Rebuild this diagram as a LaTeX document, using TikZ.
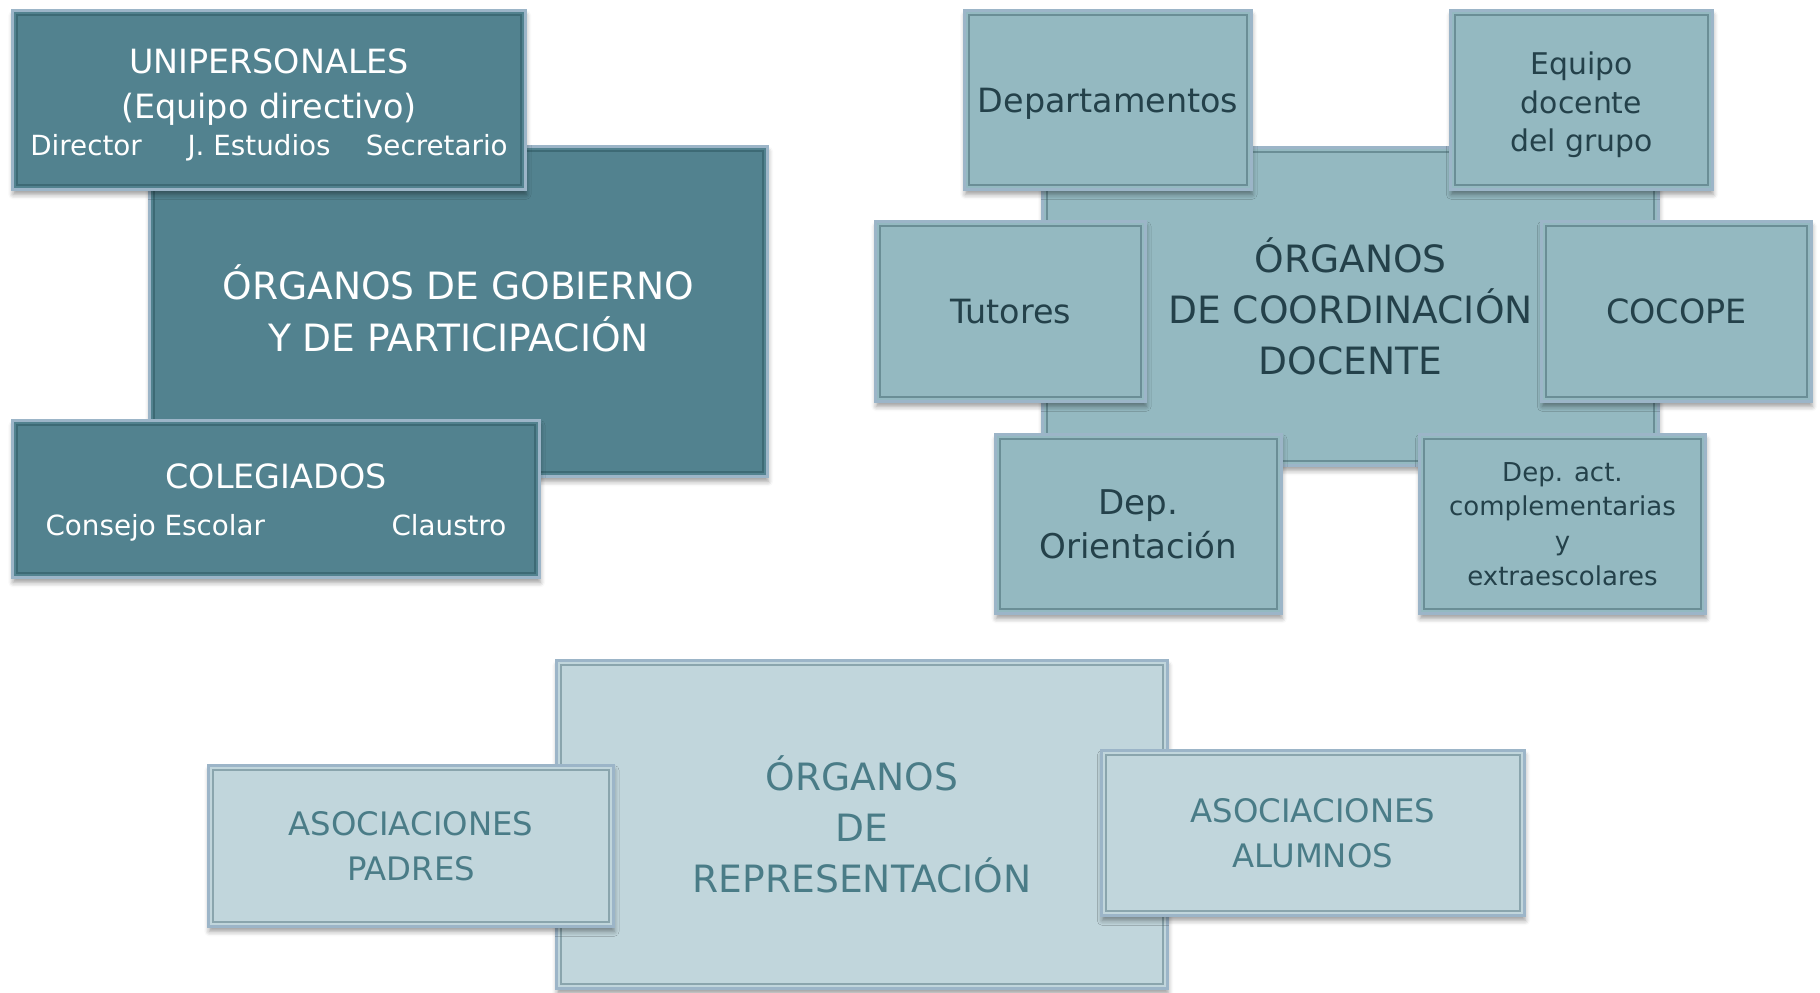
\documentclass[tikz,border=0pt]{standalone}
\usepackage{fontspec}
\setmainfont{DejaVu Sans}
\usepackage{tikz}
\usetikzlibrary{shadows.blur}

\definecolor{gobiernofill}{HTML}{52828F}
\definecolor{gobiernoline}{HTML}{3D6A75}
\definecolor{docentefill}{HTML}{94B9C1}
\definecolor{docenteline}{HTML}{6A8E96}
\definecolor{docentetext}{HTML}{24414A}
\definecolor{reprefill}{HTML}{C1D6DC}
\definecolor{repreline}{HTML}{8AA5AD}
\definecolor{repretext}{HTML}{4A7C87}
\definecolor{rim}{HTML}{9CB5C8}

\begin{document}
\begin{tikzpicture}[
        caja/.style n args = {2}{rectangle, draw = rim, line width = 0.9pt, fill = #1, inner sep = 0pt, align = center,
            blur shadow = {shadow xshift = 0.2pt, shadow yshift = -1.4pt, shadow blur radius = 1.4pt, shadow opacity = 40},
            path picture = {\draw[#2, line width = 0.6pt] ([shift = {(1.3pt, 1.3pt)}]path picture bounding box.south west) rectangle ([shift = {(-1.3pt, -1.3pt)}]path picture bounding box.north east);}},
        gobierno/.style = {caja = {gobiernofill}{gobiernoline}, text = white},
        docente/.style = {caja = {docentefill}{docenteline}, text = docentetext},
        representa/.style = {caja = {reprefill}{repreline}, text = repretext},
        titulo/.style = {font = \fontsize{10.7pt}{14.6pt}\selectfont},
        rotulo/.style = {font = \fontsize{9.5pt}{12.9pt}\selectfont}
    ]
            \useasboundingbox (0, 0) rectangle (18.2, -9.93);

            % gobierno y participacion
            \coordinate (pos_gobierno) at (4.585, -3.115);
            \coordinate (pos_uni) at (2.69, -1.00);
            \coordinate (pos_col) at (2.76, -4.99);

            \node[gobierno, titulo, minimum width = 6.18cm, minimum height = 3.30cm] (gobierno) at (pos_gobierno) {ÓRGANOS DE GOBIERNO\\Y DE PARTICIPACIÓN\rule[-2pt]{0pt}{1pt}};

            \node[gobierno, rotulo, minimum width = 5.13cm, minimum height = 1.79cm] (unipersonales) at (pos_uni) {\rule{0pt}{9.8pt}UNIPERSONALES\\(Equipo directivo)\\[-2.4pt]{\fontsize{7.9pt}{9.5pt}\selectfont Director\hspace{13pt}J. Estudios\hspace{10pt}Secretario}};

            \node[gobierno, rotulo, minimum width = 5.27cm, minimum height = 1.57cm] (colegiados) at (pos_col) {\rule{0pt}{8.9pt}COLEGIADOS\\[0.6pt]{\fontsize{7.9pt}{9.5pt}\selectfont Consejo Escolar\hspace{36pt}Claustro}};

            % coordinacion docente
            \coordinate (pos_coord) at (13.505, -3.065);
            \coordinate (pos_dep) at (11.08, -1.00);
            \coordinate (pos_equipo) at (15.815, -1.00);
            \coordinate (pos_tut) at (10.105, -3.115);
            \coordinate (pos_cocope) at (16.765, -3.115);
            \coordinate (pos_orient) at (11.385, -5.24);
            \coordinate (pos_extra) at (15.625, -5.24);

            \node[docente, titulo, minimum width = 6.16cm, minimum height = 3.18cm] (coordinacion) at (pos_coord) {ÓRGANOS\\DE COORDINACIÓN\\DOCENTE};

            \node[docente, rotulo, minimum width = 2.87cm, minimum height = 1.79cm, text depth = 0pt] (departamentos) at (pos_dep) {Departamentos};
            \node[docente, minimum width = 2.62cm, minimum height = 1.79cm, font = \fontsize{8.5pt}{11pt}\selectfont] (equipo) at (pos_equipo) {\rule{0pt}{9.2pt}Equipo\\docente\\del grupo};
            \node[docente, rotulo, minimum width = 2.70cm, minimum height = 1.80cm] (tutores) at (pos_tut) {Tutores};
            \node[docente, rotulo, minimum width = 2.70cm, minimum height = 1.80cm] (cocope) at (pos_cocope) {COCOPE};
            \node[docente, minimum width = 2.86cm, minimum height = 1.79cm, font = \fontsize{9.7pt}{12.5pt}\selectfont] (orientacion) at (pos_orient) {Dep.\\Orientación};
            \node[docente, minimum width = 2.86cm, minimum height = 1.79cm, font = \fontsize{7.4pt}{9.9pt}\selectfont] (extraescolares) at (pos_extra) {Dep. act.\\complementarias\\y\\extraescolares};

            % representacion
            \coordinate (pos_repre) at (8.62, -8.245);
            \coordinate (pos_padres) at (4.11, -8.46);
            \coordinate (pos_alumnos) at (13.13, -8.33);

            \node[representa, titulo, minimum width = 6.11cm, minimum height = 3.28cm] (representacion) at (pos_repre) {ÓRGANOS\\DE\\REPRESENTACIÓN};

            \node[representa, minimum width = 4.05cm, minimum height = 1.61cm, font = \fontsize{9.2pt}{12.8pt}\selectfont] (padres) at (pos_padres) {ASOCIACIONES\\PADRES};
            \node[representa, minimum width = 4.23cm, minimum height = 1.65cm, font = \fontsize{9.2pt}{12.8pt}\selectfont] (alumnos) at (pos_alumnos) {ASOCIACIONES\\ALUMNOS};
        \end{tikzpicture}
\end{document}
